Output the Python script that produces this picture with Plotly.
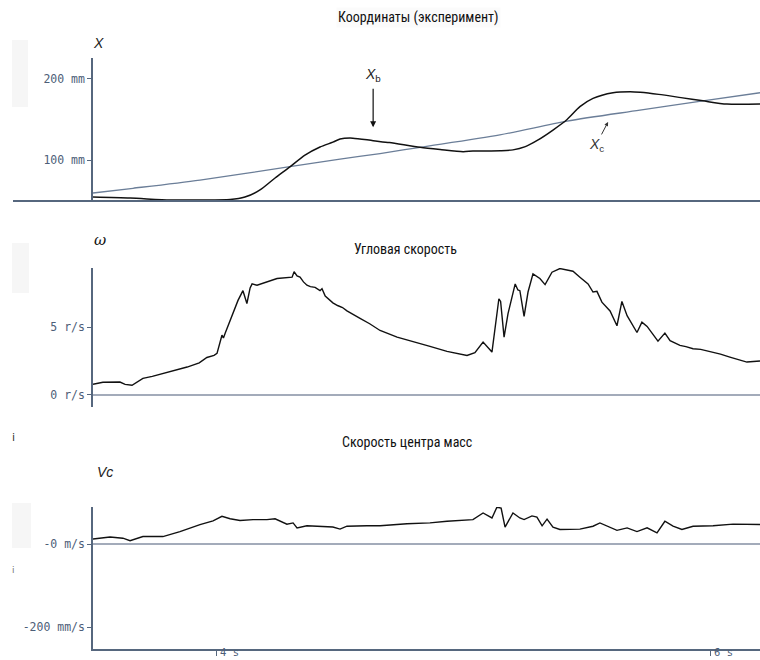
import plotly.graph_objects as go

# ---------------- data ----------------
# Panel 1: coordinates (mm) vs time (s)
xb_t = [3.500, 3.650, 3.812, 3.933, 4.055, 4.115, 4.176, 4.237, 4.297, 4.358, 4.419, 4.471,
        4.500, 4.552, 4.634, 4.700, 4.824, 4.905, 4.998, 5.038, 5.150, 5.200, 5.250, 5.300,
        5.362, 5.419, 5.471, 5.524, 5.605, 5.674, 5.715, 5.790, 5.880, 5.969, 6.066, 6.200]
xb_v = [54.3, 53.0, 50.6, 50.6, 51.2, 54.3, 63.0, 77.8, 91.4, 106.0, 116.0, 122.0,
        125.9, 127.0, 123.8, 121.5, 115.7, 113.0, 110.3, 111.0, 111.5, 112.5, 116.5, 124.5,
        137.0, 150.0, 165.8, 176.0, 183.0, 184.3, 183.6, 181.0, 177.0, 173.0, 169.0, 169.0]

xc_t = [3.500, 3.662, 3.933, 4.297, 4.500, 4.662, 4.824, 5.147, 5.419, 5.714, 5.969, 6.200]
xc_v = [59.3, 65.1, 75.3, 91.7, 101.0, 108.0, 115.7, 131.0, 148.0, 161.5, 173.0, 183.0]

# Panel 2: angular velocity (r/s)
w_t = [3.500, 3.540, 3.609, 3.630, 3.658, 3.702, 3.740, 3.783, 3.830, 3.881, 3.930, 3.961,
       3.990, 4.002, 4.022, 4.028, 4.035, 4.055, 4.070, 4.087, 4.107, 4.123, 4.136, 4.144,
       4.164, 4.200, 4.245, 4.306, 4.314, 4.326, 4.338, 4.352, 4.366, 4.380, 4.399, 4.419,
       4.427, 4.440, 4.455, 4.471, 4.490, 4.510, 4.528, 4.550, 4.581, 4.620, 4.662, 4.731,
       4.795, 4.864, 4.933, 4.990, 5.014, 5.046, 5.079, 5.115, 5.135, 5.143, 5.150, 5.164,
       5.180, 5.209, 5.220, 5.228, 5.245, 5.261, 5.281, 5.295, 5.309, 5.330, 5.345, 5.358,
       5.390, 5.443, 5.471, 5.504, 5.524, 5.540, 5.560, 5.593, 5.621, 5.641, 5.662, 5.702,
       5.722, 5.743, 5.787, 5.815, 5.836, 5.876, 5.900, 5.929, 5.960, 6.010, 6.040, 6.078,
       6.110, 6.147, 6.200]
w_v = [0.76, 0.91, 0.93, 0.76, 0.69, 1.20, 1.35, 1.57, 1.80, 2.04, 2.35, 2.75,
       2.90, 3.05, 4.40, 4.20, 4.55, 5.50, 6.10, 6.98, 7.70, 6.75, 7.90, 8.20,
       8.10, 8.30, 8.60, 8.70, 9.10, 8.80, 8.70, 8.35, 8.10, 8.00, 7.95, 7.70,
       7.85, 7.30, 7.05, 6.80, 6.60, 6.45, 6.20, 5.95, 5.65, 5.25, 4.75, 4.26,
       3.90, 3.57, 3.20, 3.00, 2.90, 3.10, 3.89, 3.15, 6.00, 7.10, 6.90, 4.26,
       6.00, 8.20, 7.75, 7.70, 5.80, 7.60, 8.95, 8.80, 8.60, 8.15, 8.70, 9.07,
       9.34, 9.14, 8.70, 8.20, 7.60, 7.65, 6.85, 6.20, 5.10, 6.90, 5.85, 4.60,
       5.37, 5.05, 3.96, 4.56, 4.00, 3.65, 3.55, 3.40, 3.35, 3.15, 3.00, 2.78,
       2.62, 2.41, 2.49]

# Panel 3: centre-of-mass velocity (mm/s)
vc_t = [3.500, 3.569, 3.621, 3.650, 3.702, 3.783, 3.852, 3.933, 3.986, 4.022, 4.055, 4.095,
        4.148, 4.204, 4.237, 4.285, 4.310, 4.326, 4.366, 4.419, 4.471, 4.500, 4.528, 4.609,
        4.662, 4.771, 4.864, 4.933, 5.038, 5.079, 5.115, 5.135, 5.152, 5.168, 5.200, 5.228,
        5.245, 5.277, 5.297, 5.318, 5.338, 5.362, 5.390, 5.471, 5.524, 5.552, 5.581, 5.621,
        5.662, 5.702, 5.743, 5.783, 5.815, 5.848, 5.884, 5.929, 6.010, 6.091, 6.200]
vc_v = [13, 18, 15, 9, 19, 19, 31, 48, 57, 68, 62, 58,
        60, 60, 62, 49, 52, 40, 45, 44, 42, 37, 44, 45,
        45, 50, 52, 56, 60, 76, 64, 90, 88, 42, 76, 64,
        60, 69, 66, 45, 61, 42, 36, 37, 44, 52, 44, 34,
        40, 31, 40, 28, 56, 44, 36, 44, 45, 49, 48]

x_ticks = [4, 6]
x_tick_text = ["4 s", "6 s"]
y1_ticks = [100, 200]
y1_text = ["100 mm", "200 mm"]
y2_ticks = [0, 5]
y2_text = ["0 r/s", "5 r/s"]
y3_ticks = [-200, 0]
y3_text = ["-200 mm/s", "-0 m/s"]

titles = ["Координаты (эксперимент)", "Угловая скорость", "Скорость центра масс"]

# ---------------- style ----------------
W, H = 760, 660
AX = "#56677e"
ZERO = "#a3abba"
TICKF = dict(family="DejaVu Sans Mono, monospace", size=11.5, color="#4d5e78")
TITLEF = dict(family="Liberation Sans Narrow, Arial Narrow, Roboto Condensed, Liberation Sans, sans-serif",
              size=14, color="#111111")
LABF = dict(family="Liberation Sans, Arial, sans-serif", size=14, color="#222222")

def px(x):
    return x / W

def py(y):
    return 1 - y / H

XDOM = [px(93), 1.0]
XRANGE = [3.5, 6.2]

fig = go.Figure()
fig.add_trace(go.Scatter(x=xc_t, y=xc_v, mode="lines",
                         line=dict(color="#6b7e98", width=1.3, shape="spline", smoothing=0.8),
                         xaxis="x", yaxis="y", hoverinfo="skip"))
fig.add_trace(go.Scatter(x=xb_t, y=xb_v, mode="lines",
                         line=dict(color="#111111", width=1.5, shape="spline", smoothing=0.7),
                         xaxis="x", yaxis="y", hoverinfo="skip"))
fig.add_trace(go.Scatter(x=w_t, y=w_v, mode="lines", line=dict(color="#111111", width=1.4),
                         xaxis="x2", yaxis="y2", hoverinfo="skip"))
fig.add_trace(go.Scatter(x=vc_t, y=vc_v, mode="lines", line=dict(color="#111111", width=1.4),
                         xaxis="x3", yaxis="y3", hoverinfo="skip"))

common_x = dict(domain=XDOM, range=XRANGE, showgrid=False, zeroline=False, fixedrange=True)
common_y = dict(showgrid=False, showline=True, linecolor=AX, linewidth=1.5, ticks="outside",
                ticklen=4, tickcolor=AX, tickwidth=1, tickfont=TICKF, fixedrange=True)

fig.update_layout(
    width=W, height=H, margin=dict(l=0, r=0, t=0, b=0),
    paper_bgcolor="white", plot_bgcolor="white", showlegend=False,
    xaxis=dict(common_x, anchor="y", showline=False, showticklabels=False, ticks=""),
    xaxis2=dict(common_x, anchor="y2", showline=False, showticklabels=False, ticks=""),
    xaxis3=dict(common_x, anchor="y3", showline=True, linecolor=AX, linewidth=2,
                tickvals=x_ticks, ticks="outside", ticklen=5, tickcolor=AX, showticklabels=False),
    yaxis=dict(common_y, anchor="x", domain=[py(201), py(58)], range=[49.4, 225.9],
               tickvals=y1_ticks, ticktext=y1_text, zeroline=False),
    yaxis2=dict(common_y, anchor="x2", domain=[py(407), py(268)], range=[-0.92, 9.38],
                tickvals=y2_ticks, ticktext=y2_text, zeroline=True, zerolinecolor=ZERO, zerolinewidth=2),
    yaxis3=dict(common_y, anchor="x3", domain=[py(649), py(507)], range=[-253, 90.5],
                tickvals=y3_ticks, ticktext=y3_text, zeroline=True, zerolinecolor=ZERO, zerolinewidth=2),
)

shapes = [
    # bottom line of the coordinate panel, extending left of the axis
    dict(type="line", xref="paper", yref="y domain", x0=px(13), x1=1, y0=0, y1=0,
         line=dict(color=AX, width=2)),
    # faint background artefacts at the left
    dict(type="rect", xref="paper", yref="paper", x0=px(12), x1=px(28), y0=py(107), y1=py(40),
         fillcolor="#f6f6f6", line=dict(width=0), layer="below"),
    dict(type="rect", xref="paper", yref="paper", x0=px(12), x1=px(29), y0=py(293), y1=py(243),
         fillcolor="#f6f6f6", line=dict(width=0), layer="below"),
    dict(type="rect", xref="paper", yref="paper", x0=px(12), x1=px(31), y0=py(548), y1=py(503),
         fillcolor="#f6f6f6", line=dict(width=0), layer="below"),
]
fig.update_layout(shapes=shapes)

ann = []
# panel titles
for i, (t, (x0, y0)) in enumerate(zip(titles, [(418, 18), (405, 249), (407, 442)])):
    a = dict(text=t, x=px(x0), y=py(y0), xref="paper", yref="paper", showarrow=False,
             xanchor="center", yanchor="middle", font=TITLEF)
    if i == 0:
        a["bgcolor"] = "#fbfbfb"
    ann.append(a)
# axis names
ann.append(dict(text="<i>X</i>", x=px(91), y=py(33), xref="paper", yref="paper", showarrow=False,
                font=LABF))
ann.append(dict(text="<i>ω</i>", x=px(92), y=py(240), xref="paper", yref="paper", showarrow=False,
                font=dict(family="DejaVu Serif, serif", size=15, color="#111111")))
ann.append(dict(text="<i>Vc</i>", x=px(95), y=py(482), xref="paper", yref="paper", showarrow=False,
                font=LABF))
# curve labels with arrows (label sits at the arrow tail)
ann.append(dict(text="<i>X</i><sub>b</sub>", x=4.634, y=140.5, xref="x", yref="y",
                ax=0, ay=-52, showarrow=True, arrowhead=2, arrowsize=1, arrowwidth=1.2,
                arrowcolor="#111111", standoff=0, startstandoff=3, font=LABF))
ann.append(dict(text="<i>X</i><sub>c</sub>", x=5.585, y=147.0, xref="x", yref="y",
                ax=-12, ay=23, showarrow=True, arrowhead=2, arrowsize=0.8, arrowwidth=1,
                arrowcolor="#333333", standoff=0, startstandoff=0,
                font=dict(family="Liberation Sans, Arial, sans-serif", size=14, color="#333333")))
# x tick labels
for v, t in zip(x_ticks, x_tick_text):
    ann.append(dict(text=t, x=v, y=0, xref="x3", yref="paper", xanchor="left", yanchor="bottom",
                    xshift=1, showarrow=False,
                    font=dict(family="DejaVu Sans Mono, monospace", size=10.5, color="#4d5e78")))
# small artefact marks
ann.append(dict(text="i", x=px(10), y=py(437), xref="paper", yref="paper", showarrow=False,
                font=dict(family="DejaVu Sans", size=11, color="#333333")))
ann.append(dict(text="i", x=px(10), y=py(577), xref="paper", yref="paper", showarrow=False,
                font=dict(family="DejaVu Sans", size=9, color="#777777")))
fig.update_layout(annotations=ann)

fig.write_html("out.html", config={"displayModeBar": False})
